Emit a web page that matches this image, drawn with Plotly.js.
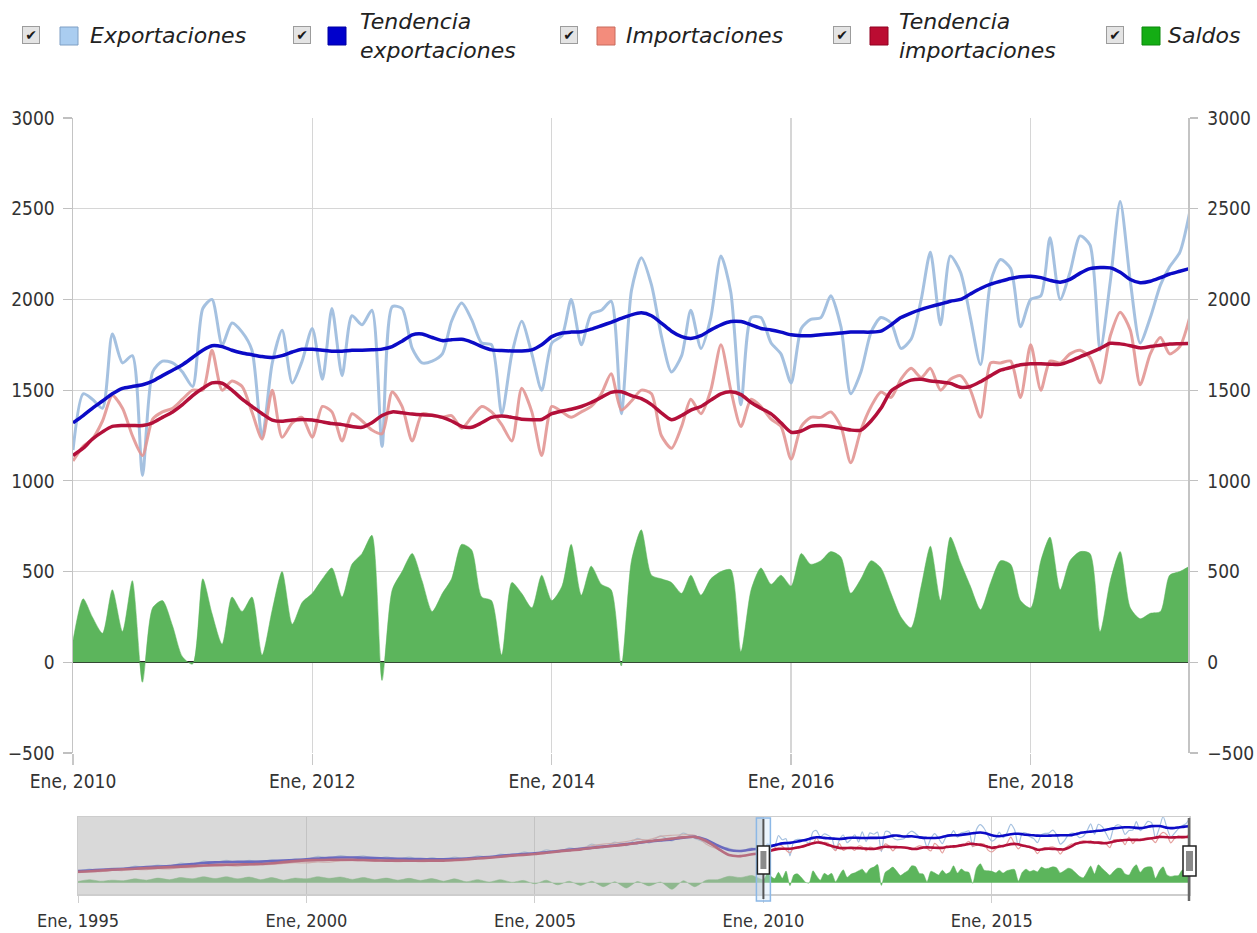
<!DOCTYPE html>
<html>
<head>
<meta charset="utf-8">
<script src="https://cdn.plot.ly/plotly-3.0.1.min.js"></script>
<style>
  html, body { margin: 0; padding: 0; background: #ffffff; }
  #chart { width: 1257px; height: 933px; }
</style>
</head>
<body>
<div id="chart"></div>
<script>
// ---------------- DATA ----------------
const seriesNames = ['Exportaciones', 'Tendencia exportaciones', 'Importaciones', 'Tendencia importaciones', 'Saldos'];

// Monthly series, Jan 2010 .. May 2019 (one row per year)
const mainStart = [2010, 1];
const exportaciones = [
  1170, 1480, 1450, 1400, 1810, 1650, 1690, 1030, 1600, 1660, 1650, 1600,
  1520, 1950, 2000, 1750, 1870, 1820, 1720, 1240, 1650, 1830, 1540, 1660,
  1840, 1560, 1950, 1580, 1910, 1860, 1940, 1190, 1960, 1950, 1730, 1650,
  1660, 1700, 1880, 1980, 1890, 1760, 1750, 1370, 1700, 1880, 1700, 1500,
  1760, 1800, 2000, 1750, 1920, 1940, 1990, 1370, 2050, 2230, 2080, 1800,
  1600, 1690, 1940, 1730, 1900, 2240, 2040, 1420, 1900, 1900, 1760, 1700,
  1540, 1840, 1890, 1900, 2020, 1850, 1480, 1600, 1820, 1900, 1870, 1730,
  1780, 2000, 2260, 1860, 2240, 2150, 1900, 1640, 2100, 2220, 2170, 1850,
  2000, 2020, 2340, 2000, 2150, 2350, 2300, 1720, 2100, 2540, 2100, 1760,
  1900, 2080, 2180, 2260, 2480
];
const tendenciaExportaciones = [
  1320, 1360, 1400, 1440, 1480, 1510, 1520, 1530, 1550, 1580, 1610, 1640,
  1680, 1720, 1745, 1740, 1720, 1705, 1695, 1685, 1680, 1690, 1710, 1725,
  1725, 1720, 1715, 1715, 1720, 1720, 1722, 1726, 1740, 1770, 1805, 1810,
  1790, 1773, 1778, 1780, 1765, 1740, 1722, 1718, 1716, 1716, 1722, 1750,
  1795, 1815, 1820, 1822, 1836, 1855, 1874, 1895, 1915, 1926, 1910, 1870,
  1825, 1795, 1785, 1800, 1832, 1860, 1878, 1878, 1860, 1840, 1832, 1820,
  1805, 1800, 1800, 1805, 1810, 1815, 1820, 1820, 1820, 1825, 1860, 1900,
  1925, 1945, 1960, 1975, 1990, 2000, 2030, 2060, 2084, 2100, 2115, 2125,
  2128, 2120, 2105, 2095, 2110, 2145, 2170, 2176, 2174, 2150, 2110, 2092,
  2100, 2120, 2140, 2155, 2170
];
const importaciones = [
  1110, 1190, 1230, 1330, 1470, 1400, 1250, 1140, 1340, 1380, 1400, 1450,
  1500, 1500, 1720, 1500, 1550, 1520, 1380, 1230, 1500, 1240, 1320, 1350,
  1240, 1410, 1380, 1220, 1370, 1330, 1280, 1260, 1490, 1410, 1220, 1370,
  1360, 1350, 1360, 1290, 1350, 1410, 1380, 1310, 1220, 1510, 1380, 1140,
  1410, 1380, 1350, 1380, 1410, 1480, 1590, 1390, 1440, 1500, 1480, 1250,
  1180, 1300, 1450, 1370, 1500, 1750, 1500, 1300, 1450, 1410, 1340, 1300,
  1120, 1300, 1350, 1350, 1380, 1300, 1100, 1280, 1410, 1490, 1460, 1560,
  1620, 1570, 1620, 1500, 1560, 1580, 1500, 1350, 1650, 1650, 1660, 1460,
  1750, 1500, 1660, 1650, 1700, 1720, 1680, 1540, 1800, 1930, 1830, 1530,
  1700, 1790, 1700, 1740, 1900
];
const tendenciaImportaciones = [
  1140, 1180, 1230, 1270, 1300, 1305, 1305, 1305, 1320, 1350, 1380, 1420,
  1470, 1510, 1540, 1538, 1500, 1450, 1410, 1370, 1335, 1328, 1335, 1338,
  1335, 1325, 1316, 1310, 1300, 1295, 1320, 1360, 1380, 1375, 1368, 1364,
  1362, 1350, 1330, 1300, 1295, 1320, 1350, 1358, 1350, 1340, 1337, 1338,
  1370, 1385, 1395, 1410, 1432, 1460, 1488, 1491, 1470, 1453, 1420, 1375,
  1337, 1360, 1390, 1410, 1445, 1480, 1491, 1475, 1432, 1400, 1369, 1320,
  1268, 1275, 1300, 1305, 1300, 1290, 1280, 1280, 1330, 1400, 1495, 1530,
  1555, 1560, 1550, 1545, 1537, 1516, 1520, 1547, 1580, 1610, 1625, 1640,
  1646, 1645, 1643, 1642, 1660, 1684, 1705, 1730, 1758, 1755, 1745, 1733,
  1740, 1748, 1754, 1756, 1758
];
const saldos = [
   120,  350,  250,  160,  400,  170,  450, -110,  300,  340,  200,   30,
   -10,  460,  270,  100,  360,  280,  360,   40,  290,  500,  210,  330,
   380,  460,  520,  360,  540,  600,  700, -100,  400,  500,  600,  450,
   280,  380,  460,  650,  620,  360,  340,   40,  440,  380,  300,  480,
   340,  420,  650,  370,  530,  430,  400,  -20,  560,  730,  480,  460,
   440,  380,  480,  370,  460,  500,  510,   60,  400,  520,  430,  480,
   420,  600,  540,  560,  610,  580,  380,  460,  560,  520,  380,  250,
   190,  420,  640,  340,  690,  550,  420,  290,  440,  560,  540,  340,
   300,  560,  690,  400,  560,  610,  600,  170,  450,  610,  300,  240,
   270,  280,  480,  500,  530
];

// Quarterly history shown only in the overview, 1995 Q1 .. 2009 Q4 (one row per year)
const histStart = [1995, 1];
const histExportaciones = [
  430, 520, 480, 560,   540, 640, 580, 680,   630, 750, 700, 830,
  780, 860, 770, 860,   800, 880, 820, 920,   890, 1010, 940, 1040,
  970, 1030, 920, 990,  900, 980, 880, 960,   880, 980, 900, 1030,
  970, 1100, 1040, 1180, 1100, 1260, 1170, 1340, 1260, 1480, 1330, 1560,
  1420, 1700, 1520, 1800, 1600, 1900, 1700, 1540, 1400, 1320, 1200, 1340
];
const histTendenciaExportaciones = [
  450, 470, 500, 520,   540, 570, 600, 620,   640, 680, 720, 760,
  780, 790, 800, 800,   810, 830, 850, 870,   900, 930, 960, 970,
  970, 960, 950, 930,   920, 910, 905, 900,   900, 910, 930, 960,
  990, 1030, 1070, 1100, 1130, 1170, 1210, 1260, 1300, 1340, 1390, 1430,
  1480, 1530, 1580, 1620, 1660, 1730, 1760, 1650, 1430, 1260, 1220, 1280
];
const histImportaciones = [
  390, 420, 430, 470,   470, 510, 500, 540,   530, 580, 580, 630,
  640, 660, 640, 680,   690, 700, 740, 770,   760, 800, 790, 840,
  850, 850, 820, 830,   810, 830, 810, 820,   830, 850, 860, 930,
  940, 990, 1020, 1080, 1120, 1160, 1250, 1280, 1330, 1420, 1480, 1520,
  1580, 1660, 1650, 1780, 1820, 1840, 1820, 1480, 1280, 1070, 1000, 1080
];
const histTendenciaImportaciones = [
  420, 440, 470, 500,   520, 540, 560, 580,   600, 620, 640, 660,
  680, 690, 700, 710,   720, 750, 790, 830,   860, 870, 880, 880,
  880, 870, 860, 850,   850, 845, 845, 850,   850, 870, 900, 930,
  960, 1000, 1040, 1070, 1100, 1150, 1200, 1240, 1280, 1330, 1380, 1420,
  1470, 1530, 1590, 1640, 1690, 1740, 1760, 1600, 1320, 1060, 1020, 1090
];
const histSaldos = [
  50, 120, 60, 100,    80, 150, 100, 180,   120, 200, 150, 230,
  160, 230, 150, 220,  120, 200, 100, 180,  150, 230, 170, 220,
  130, 200, 120, 180,  100, 170, 90, 160,   60, 150, 40, 120,
  30, 120, 20, 90,     -40, 100, -80, 60,   -100, 60, -150, 40,
  -200, 50, -120, 30,  -250, 80, -150, 100, 120, 250, 200, 280
];

// Axis ticks
const mainTickVals = ['2010-01-01', '2012-01-01', '2014-01-01', '2016-01-01', '2018-01-01'];
const mainTickText = ['Ene, 2010', 'Ene, 2012', 'Ene, 2014', 'Ene, 2016', 'Ene, 2018'];
const navTickVals = ['1995-01-01', '2000-01-01', '2005-01-01', '2010-01-01', '2015-01-01'];
const navTickText = ['Ene, 1995', 'Ene, 2000', 'Ene, 2005', 'Ene, 2010', 'Ene, 2015'];
const viewRange = ['2010-01-01', '2019-04-26'];
const navRange = ['1995-01-01', '2019-04-26'];

// ---------------- HELPERS ----------------
function pad(n) { return (n < 10 ? '0' : '') + n; }
function dates(start, count, stepMonths) {
  const out = [];
  for (let i = 0; i < count; i++) {
    const t = (start[0] * 12 + start[1] - 1) + i * stepMonths;
    out.push(Math.floor(t / 12) + '-' + pad(t % 12 + 1) + '-01');
  }
  return out;
}
const mainDates = dates(mainStart, exportaciones.length, 1);
const histDates = dates(histStart, histExportaciones.length, 3);
const allDates = histDates.concat(mainDates);

// colours & styles
const C = {
  exp: 'rgba(160,190,222,0.95)',
  expT: '#0b0bc6',
  imp: 'rgba(226,150,148,0.9)',
  impT: '#b3103a',
  sal: '#5cb55c'
};
const tickFont = { family: "'DejaVu Sans Condensed', 'DejaVu Sans', sans-serif", size: 19, color: '#333333' };
const navTickFont = { family: "'DejaVu Sans Condensed', 'DejaVu Sans', sans-serif", size: 18, color: '#333333' };
const legendFont = { family: "'DejaVu Sans', sans-serif", size: 22, color: '#222222' };

// page geometry for the legend row / plot area
const M = { l: 73, r: 68, t: 118, b: 39 };
const PW = 1257 - M.l - M.r, PH = 933 - M.t - M.b;
const px = X => (X - M.l) / PW;
const py = Y => (933 - M.b - Y) / PH;

function line(x, y, color, width, xa, ya, name) {
  return { type: 'scatter', mode: 'lines', x: x, y: y, name: name, xaxis: xa, yaxis: ya,
    line: { color: color, width: width, shape: 'spline', smoothing: 0.7 }, hoverinfo: 'skip', showlegend: false };
}
function area(x, y, xa, ya, name) {
  return { type: 'scatter', mode: 'lines', x: x, y: y, name: name, xaxis: xa, yaxis: ya, fill: 'tozeroy',
    fillcolor: C.sal, line: { color: C.sal, width: 0.5, shape: 'spline', smoothing: 0.7 }, hoverinfo: 'skip', showlegend: false };
}

const navExp = histExportaciones.concat(exportaciones);
const navExpT = histTendenciaExportaciones.concat(tendenciaExportaciones);
const navImp = histImportaciones.concat(importaciones);
const navImpT = histTendenciaImportaciones.concat(tendenciaImportaciones);
const navSal = histSaldos.concat(saldos);

const traces = [
  area(mainDates, saldos, 'x', 'y', seriesNames[4]),
  line(mainDates, exportaciones, C.exp, 3, 'x', 'y', seriesNames[0]),
  line(mainDates, importaciones, C.imp, 3, 'x', 'y', seriesNames[2]),
  line(mainDates, tendenciaExportaciones, C.expT, 3.5, 'x', 'y', seriesNames[1]),
  line(mainDates, tendenciaImportaciones, C.impT, 3.5, 'x', 'y', seriesNames[3]),
  { type: 'scatter', x: [], y: [], xaxis: 'x', yaxis: 'y3', showlegend: false, hoverinfo: 'skip' },
  area(allDates, navSal, 'x2', 'y2', seriesNames[4]),
  line(allDates, navExp, C.exp, 1.2, 'x2', 'y2', seriesNames[0]),
  line(allDates, navImp, C.imp, 1.2, 'x2', 'y2', seriesNames[2]),
  line(allDates, navExpT, C.expT, 2.6, 'x2', 'y2', seriesNames[1]),
  line(allDates, navImpT, C.impT, 2.6, 'x2', 'y2', seriesNames[3])
];

// ---------------- LEGEND (checkbox + swatch + label) ----------------
const legendItems = [
  { cb: 31, sw: 60, tx: 88, text: 'Exportaciones', fill: '#aacdf0', border: '#7e9fc4' },
  { cb: 302, sw: 328, tx: 358, text: 'Tendencia<br>exportaciones', fill: '#0000cc', border: '#0000a0' },
  { cb: 569, sw: 597, tx: 624, text: 'Importaciones', fill: '#f38c7c', border: '#c86a5c' },
  { cb: 842, sw: 870, tx: 897, text: 'Tendencia<br>importaciones', fill: '#bb0c32', border: '#900020' },
  { cb: 1115, sw: 1142, tx: 1166, text: 'Saldos', fill: '#14ad14', border: '#0a880a' }
];
const annotations = [];
const shapes = [];
legendItems.forEach(it => {
  annotations.push({ xref: 'paper', yref: 'paper', x: px(it.cb), y: py(35), xanchor: 'center', yanchor: 'middle',
    text: '✔', showarrow: false, font: { family: "'DejaVu Sans', sans-serif", size: 14, color: '#1a1a1a' },
    bgcolor: '#e4e4e4', bordercolor: '#9c9c9c', borderwidth: 1, borderpad: 0, width: 16, height: 16 });
  shapes.push({ type: 'rect', xref: 'paper', yref: 'paper', x0: px(it.sw), x1: px(it.sw + 18), y0: py(45), y1: py(27),
    fillcolor: it.fill, line: { color: it.border, width: 1 } });
  annotations.push({ xref: 'paper', yref: 'paper', x: px(it.tx), y: py(36), xanchor: 'left', yanchor: 'middle', align: 'left',
    text: '<i>' + it.text + '</i>', showarrow: false, font: legendFont });
});

// ---------------- OVERVIEW MASK + HANDLES ----------------
const navTop = py(817), navBot = py(894);
shapes.push({ type: 'rect', xref: 'x2', yref: 'y2 domain', x0: navRange[0], x1: viewRange[0], y0: 0, y1: 1,
  fillcolor: 'rgba(185,185,185,0.55)', line: { width: 0 }, layer: 'above' });
// left handle
shapes.push({ type: 'rect', xref: 'x2', yref: 'paper', xsizemode: 'pixel', xanchor: viewRange[0], x0: -7, x1: 7,
  y0: py(901), y1: py(818), fillcolor: 'rgba(200,225,250,0.35)', line: { color: '#8cb8e6', width: 1.5 }, layer: 'above' });
shapes.push({ type: 'line', xref: 'x2', yref: 'paper', x0: viewRange[0], x1: viewRange[0], y0: py(899), y1: py(819),
  line: { color: '#555', width: 2 }, layer: 'above' });
shapes.push({ type: 'rect', xref: 'x2', yref: 'paper', xsizemode: 'pixel', xanchor: viewRange[0], x0: -6, x1: 6,
  y0: py(874), y1: py(846), fillcolor: '#ffffff', line: { color: '#222', width: 1.5 }, layer: 'above' });
shapes.push({ type: 'rect', xref: 'x2', yref: 'paper', xsizemode: 'pixel', xanchor: viewRange[0], x0: -3, x1: 3,
  y0: py(869), y1: py(851), fillcolor: '#8a8a8a', line: { width: 0 }, layer: 'above' });
// right handle
shapes.push({ type: 'line', xref: 'paper', yref: 'paper', x0: 1, x1: 1, y0: py(901), y1: py(818),
  line: { color: '#666', width: 2.5 }, layer: 'above' });
shapes.push({ type: 'rect', xref: 'paper', yref: 'paper', xsizemode: 'pixel', xanchor: 1, x0: -6, x1: 7,
  y0: py(876), y1: py(846), fillcolor: '#ffffff', line: { color: '#222', width: 1.5 }, layer: 'above' });
shapes.push({ type: 'rect', xref: 'paper', yref: 'paper', xsizemode: 'pixel', xanchor: 1, x0: -3, x1: 4,
  y0: py(871), y1: py(851), fillcolor: '#8a8a8a', line: { width: 0 }, layer: 'above' });

const grid = '#d6d6d6';
const layout = {
  width: 1257, height: 933,
  margin: M,
  paper_bgcolor: '#ffffff', plot_bgcolor: '#ffffff',
  showlegend: false,
  xaxis: {
    domain: [0, px(1188)], anchor: 'y', type: 'date', range: viewRange,
    tickvals: mainTickVals, ticktext: mainTickText, tickfont: tickFont,
    showgrid: true, gridcolor: grid, gridwidth: 1.2, zeroline: false, showline: false,
    ticks: 'outside', ticklen: 11, tickcolor: '#c8c8c8', tickwidth: 1.2, ticklabelstandoff: 0
  },
  yaxis: {
    domain: [py(753), 1], anchor: 'x', range: [-500, 3000], dtick: 500, tick0: 0,
    tickfont: tickFont, showgrid: true, gridcolor: grid, gridwidth: 1.2,
    zeroline: true, zerolinecolor: '#262626', zerolinewidth: 2.2,
    showline: true, linecolor: '#c4c4c4', linewidth: 1.5,
    ticks: 'outside', ticklen: 9, tickcolor: '#c0c0c0', tickwidth: 1.2, ticklabelstandoff: 4
  },
  yaxis3: {
    overlaying: 'y', side: 'right', anchor: 'x', range: [-500, 3000], dtick: 500, tick0: 0,
    tickfont: tickFont, showgrid: false, zeroline: false,
    showline: true, linecolor: '#c4c4c4', linewidth: 1.5,
    ticks: 'outside', ticklen: 8, tickcolor: '#c0c0c0', tickwidth: 1.2, ticklabelstandoff: 6
  },
  xaxis2: {
    domain: [px(78), 1], anchor: 'y2', type: 'date', range: navRange,
    tickvals: navTickVals, ticktext: navTickText, tickfont: navTickFont,
    showgrid: true, gridcolor: '#cfcfcf', gridwidth: 1, zeroline: false,
    showline: true, mirror: true, linecolor: '#cdcdcd', linewidth: 1.5,
    ticks: 'outside', ticklen: 7, tickcolor: '#cfcfcf', ticklabelstandoff: 3
  },
  yaxis2: {
    domain: [navBot, navTop], anchor: 'x2', range: [-430, 2520],
    showgrid: false, zeroline: false, showticklabels: false, ticks: '',
    showline: true, mirror: true, linecolor: '#cdcdcd', linewidth: 1.5
  },
  shapes: shapes,
  annotations: annotations
};

Plotly.newPlot('chart', traces, layout, { staticPlot: true, displayModeBar: false });
</script>
</body>
</html>
